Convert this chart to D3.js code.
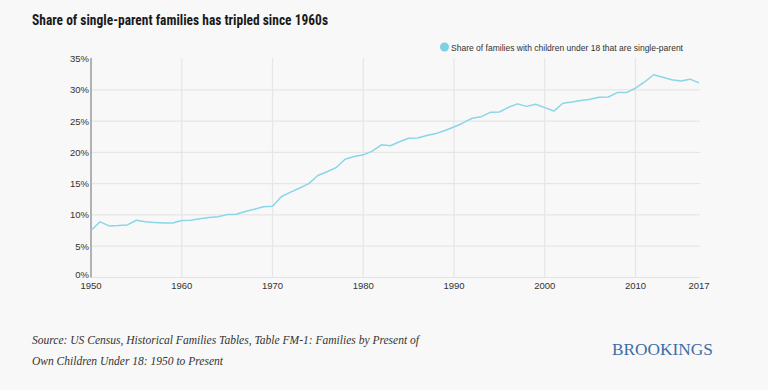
<!DOCTYPE html>
<html><head><meta charset="utf-8">
<script src="https://cdn.jsdelivr.net/npm/d3@7"></script>
<style>
html,body{margin:0;padding:0;background:#f8f8f8;}
svg{display:block;}
</style></head>
<body>
<script>
const years = d3.range(1950, 2018);
const shares = [
 7.5, 8.9, 8.25, 8.3, 8.4, 9.15, 8.9, 8.8, 8.7, 8.7,
 9.1, 9.15, 9.4, 9.6, 9.7, 10.05, 10.1, 10.55, 10.9, 11.3,
 11.4, 12.95, 13.65, 14.3, 15.0, 16.3, 16.9, 17.55, 18.9, 19.35,
 19.6, 20.2, 21.2, 21.05, 21.7, 22.25, 22.3, 22.7, 23.0, 23.5,
 24.05, 24.7, 25.45, 25.7, 26.4, 26.45, 27.2, 27.75, 27.35, 27.7,
 27.15, 26.6, 27.85, 28.05, 28.3, 28.5, 28.8, 28.85, 29.55, 29.55,
 30.25, 31.25, 32.4, 32.0, 31.6, 31.4, 31.7, 31.1
];
const xTicks = [1950, 1960, 1970, 1980, 1990, 2000, 2010, 2017];
const yTicks = [0, 5, 10, 15, 20, 25, 30, 35];
const title = "Share of single-parent families has tripled since 1960s";
const legendLabel = "Share of families with children under 18 that are single-parent";
const sourceLines = ["Source: US Census, Historical Families Tables, Table FM-1: Families by Present of",
                     "Own Children Under 18: 1950 to Present"];

const W = 768, H = 390;
const svg = d3.select("body").append("svg").attr("width", W).attr("height", H);
svg.append("rect").attr("width", W).attr("height", H).attr("fill", "#f8f8f8");

const x = d3.scaleLinear().domain([1950, 2017]).range([91, 699]);
const y = d3.scaleLinear().domain([0, 35]).range([277.5, 58.5]);

// title
svg.append("text").attr("x", 32).attr("y", 25)
  .attr("font-family", "'Liberation Sans Narrow', 'Roboto Condensed', Roboto, sans-serif")
  .attr("font-weight", "bold").attr("font-size", 15.5).attr("fill", "#1a1a1a")
  .attr("textLength", 296).attr("lengthAdjust", "spacingAndGlyphs")
  .text(title);

// legend
svg.append("circle").attr("cx", 444.5).attr("cy", 47).attr("r", 4.5).attr("fill", "#7fd0e2");
svg.append("text").attr("x", 451).attr("y", 50.5)
  .attr("font-family", "'Liberation Sans', Arial, sans-serif").attr("font-size", 9.3).attr("fill", "#333")
  .attr("textLength", 232).attr("lengthAdjust", "spacingAndGlyphs")
  .text(legendLabel);

// horizontal grid
svg.append("g").selectAll("line").data(yTicks.filter(d => d > 0 && d < 35)).join("line")
  .attr("x1", 91).attr("x2", 700).attr("y1", d => y(d)).attr("y2", d => y(d))
  .attr("stroke", "#e6e6e6").attr("stroke-width", 1.2);
// bottom baseline
svg.append("line").attr("x1", 91).attr("x2", 700).attr("y1", y(0)).attr("y2", y(0))
  .attr("stroke", "#e3e3e3").attr("stroke-width", 1.2);
// vertical grid
svg.append("g").selectAll("line").data(xTicks.filter(d => d > 1950 && d < 2017)).join("line")
  .attr("x1", d => x(d)).attr("x2", d => x(d)).attr("y1", 58).attr("y2", y(0))
  .attr("stroke", "#e6e6e6").attr("stroke-width", 1.2);

// left axis
svg.append("line").attr("x1", 91).attr("x2", 91).attr("y1", 58).attr("y2", y(0))
  .attr("stroke", "#9a9a9a").attr("stroke-width", 1.5);

// y labels
svg.append("g").selectAll("text").data(yTicks).join("text")
  .attr("x", 89).attr("y", d => y(d) + (d === 0 ? 0 : 3.5))
  .attr("text-anchor", "end")
  .attr("font-family", "'Liberation Sans', Arial, sans-serif").attr("font-size", 9.5).attr("fill", "#333")
  .text(d => d + "%");

// x labels
svg.append("g").selectAll("text").data(xTicks).join("text")
  .attr("x", d => x(d)).attr("y", 289)
  .attr("text-anchor", "middle")
  .attr("font-family", "'Liberation Sans', Arial, sans-serif").attr("font-size", 9.5).attr("fill", "#333")
  .text(d => d);

// line
const line = d3.line().x((d, i) => x(years[i])).y(d => y(d));
svg.append("path").datum(shares).attr("d", line)
  .attr("fill", "none").attr("stroke", "#8ad6e8").attr("stroke-width", 1.5)
  .attr("stroke-linejoin", "round");

// source
svg.append("g").selectAll("text").data(sourceLines).join("text")
  .attr("x", 32).attr("y", (d, i) => 344 + i * 21)
  .attr("font-family", "'Liberation Serif', 'DejaVu Serif', serif").attr("font-style", "italic")
  .attr("font-size", 12.5).attr("fill", "#333")
  .attr("textLength", (d, i) => i === 0 ? 387 : 191).attr("lengthAdjust", "spacingAndGlyphs")
  .text(d => d);

// brand
svg.append("text").attr("x", 612).attr("y", 355)
  .attr("font-family", "'Liberation Serif', 'DejaVu Serif', serif")
  .attr("font-size", 16.5).attr("fill", "#3d6ea6")
  .attr("textLength", 101).attr("lengthAdjust", "spacingAndGlyphs")
  .text("BROOKINGS");
</script>
</body></html>
